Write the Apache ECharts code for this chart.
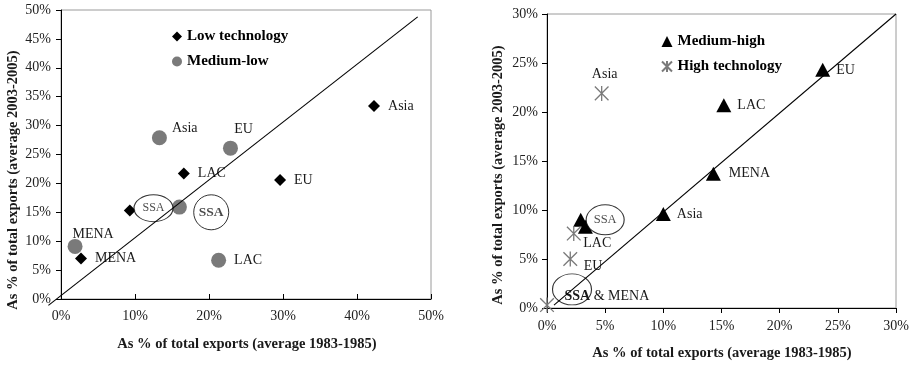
<!DOCTYPE html>
<html>
<head>
<meta charset="utf-8">
<script src="https://cdn.jsdelivr.net/npm/echarts@6/dist/echarts.min.js"></script>
<style>html,body{margin:0;padding:0;background:#fff;}#c{width:915px;height:365px;}</style>
</head>
<body>
<div id="c"></div>
<script>
// ---------- data (percent of total exports) ----------
const xTicksLeft = [0, 10, 20, 30, 40, 50];
const yTicksLeft = [0, 5, 10, 15, 20, 25, 30, 35, 40, 45, 50];
const xTicksRight = [0, 5, 10, 15, 20, 25, 30];
const yTicksRight = [0, 5, 10, 15, 20, 25, 30];

const lowNames = ['Asia', 'LAC', 'EU', 'SSA', 'MENA'];
const lowX = [42.3, 16.6, 29.6, 9.3, 2.7];
const lowY = [33.4, 21.7, 20.6, 15.3, 7.0];

const mlNames = ['Asia', 'EU', 'SSA', 'MENA', 'LAC'];
const mlX = [13.3, 22.9, 16.0, 1.9, 21.3];
const mlY = [27.9, 26.1, 15.9, 9.1, 6.7];

const mhNames = ['EU', 'LAC', 'MENA', 'Asia', 'SSA', 'SSA'];
const mhX = [23.7, 15.2, 14.3, 10.0, 2.9, 3.3];
const mhY = [24.3, 20.7, 13.7, 9.6, 9.0, 8.3];

const htNames = ['Asia', 'LAC', 'EU', 'SSA & MENA'];
const htX = [4.7, 2.3, 2.0, 0.0];
const htY = [21.9, 7.6, 5.0, 0.3];

// 45-degree reference lines (1983-85 share = 2003-05 share)
const diagLeftX = [-1.7, 48.2];
const diagLeftY = [-1.1, 48.8];
const diagRightX = [0.6, 30];
const diagRightY = [0.3, 30];

// SSA highlight ellipses (centre in data units)
const ellLeftX = [12.5, 20.3];
const ellLeftY = [15.7, 15.0];
const ellLeftText = ['SSA', 'SSA'];
const ellRightX = [5.0, 2.15];
const ellRightY = [9.0, 1.9];
const ellRightText = ['SSA', ''];

// ---------- styles ----------
const FONT = '"Liberation Serif", "Times New Roman", serif';
const labelColor = '#1a1a1a';

// label placement per series / name (style only)
const labelPlace = {
  low: {Asia: {position: 'right', distance: 8}, LAC: {position: 'right', distance: 8}, EU: {position: 'right', distance: 8}, MENA: {position: 'right', distance: 8}, SSA: null},
  ml: {Asia: {position: 'right', distance: 5, offset: [0, -9]}, EU: {position: 'top', distance: 4, offset: [13, 0]}, MENA: {position: 'top', distance: 2, offset: [18, 4]}, LAC: {position: 'right', distance: 8}, SSA: null},
  mh: {EU: {position: 'right', distance: 6}, LAC: {position: 'right', distance: 6}, MENA: {position: 'right', distance: 8}, Asia: {position: 'right', distance: 6}, SSA: null},
  ht: {Asia: {position: 'top', distance: 4, offset: [3, 0]}, LAC: {position: 'right', distance: 2, offset: [0, 10]}, EU: {position: 'right', distance: 6, offset: [0, 7]}, 'SSA & MENA': {position: 'right', distance: 10, offset: [0, -9]}}
};

function pts(names, xs, ys, key) {
  return names.map((n, i) => {
    const p = labelPlace[key][n];
    const item = {name: n, value: [xs[i], ys[i]]};
    item.label = p ? Object.assign({show: true}, p) : {show: false};
    return item;
  });
}

const asterisk = 'path://M0,0 L20,20 M0,20 L20,0 M10,-1 L10,21';

const baseLabel = {
  show: true,
  color: labelColor,
  fontFamily: FONT,
  fontSize: 14,
  formatter: function (p) {
    if (p.name === 'SSA & MENA') return '{b|SSA} & MENA';
    return p.name;
  },
  rich: {b: {fontWeight: 'bold', fontFamily: FONT, fontSize: 14, color: labelColor}}
};

function axisCommon(ticks, tickInside, margin) {
  return {
    type: 'value',
    min: ticks[0],
    max: ticks[ticks.length - 1],
    interval: ticks[1] - ticks[0],
    axisLine: {show: true, onZero: false, lineStyle: {color: '#000', width: 1}},
    axisTick: {show: true, inside: tickInside, length: 5, lineStyle: {color: '#000'}},
    axisLabel: {formatter: '{value}%', fontFamily: FONT, fontSize: 14, color: '#222', margin: margin},
    splitLine: {show: false}
  };
}

const chart = echarts.init(document.getElementById('c'), null, {renderer: 'canvas'});

const titleFont = 'bold 14.5px ' + FONT;
const option = {
  backgroundColor: '#fff',
  animation: false,
  grid: [
    {left: 61, top: 10, width: 370, height: 289, show: true, borderColor: '#9a9a9a', borderWidth: 1, backgroundColor: 'transparent'},
    {left: 547, top: 14, width: 349, height: 294, show: true, borderColor: '#9a9a9a', borderWidth: 1, backgroundColor: 'transparent'}
  ],
  xAxis: [
    Object.assign(axisCommon(xTicksLeft, true, 10), {gridIndex: 0}),
    Object.assign(axisCommon(xTicksRight, false, 11), {gridIndex: 1})
  ],
  yAxis: [
    Object.assign(axisCommon(yTicksLeft, false, 10), {gridIndex: 0}),
    Object.assign(axisCommon(yTicksRight, false, 9), {gridIndex: 1})
  ],
  legend: [
    {
      orient: 'vertical', left: 172, top: 29, padding: 0, itemGap: 10, itemWidth: 10, itemHeight: 10,
      data: ['Low technology', 'Medium-low'],
      textStyle: {fontFamily: FONT, fontSize: 15, fontWeight: 'bold', color: '#000'}
    },
    {
      orient: 'vertical', left: 661, top: 34, padding: 0, itemGap: 10, itemWidth: 11, itemHeight: 11,
      data: ['Medium-high', 'High technology'],
      textStyle: {fontFamily: FONT, fontSize: 15, fontWeight: 'bold', color: '#000'}
    }
  ],
  graphic: [
    {type: 'text', x: 247, y: 344, style: {text: 'As % of total exports (average 1983-1985)', font: titleFont, fill: '#1a1a1a', textAlign: 'center', textVerticalAlign: 'middle'}},
    {type: 'text', x: 722, y: 353, style: {text: 'As % of total exports (average 1983-1985)', font: titleFont, fill: '#1a1a1a', textAlign: 'center', textVerticalAlign: 'middle'}},
    {type: 'text', x: 13, y: 180, rotation: Math.PI / 2, style: {text: 'As % of total exports (average 2003-2005)', font: titleFont, fill: '#1a1a1a', textAlign: 'center', textVerticalAlign: 'middle'}},
    {type: 'text', x: 498, y: 175, rotation: Math.PI / 2, style: {text: 'As % of total exports (average 2003-2005)', font: titleFont, fill: '#1a1a1a', textAlign: 'center', textVerticalAlign: 'middle'}}
  ],
  series: [
    {
      name: 'Low technology', type: 'scatter', xAxisIndex: 0, yAxisIndex: 0, z: 2,
      symbol: 'diamond', symbolSize: 12,
      itemStyle: {color: '#000', opacity: 1},
      label: baseLabel,
      data: pts(lowNames, lowX, lowY, 'low')
    },
    {
      name: 'Medium-low', type: 'scatter', xAxisIndex: 0, yAxisIndex: 0, z: 2,
      symbol: 'circle', symbolSize: 15,
      itemStyle: {color: '#7a7a7a', opacity: 1},
      label: baseLabel,
      data: pts(mlNames, mlX, mlY, 'ml')
    },
    {
      name: 'Medium-high', type: 'scatter', xAxisIndex: 1, yAxisIndex: 1, z: 2,
      symbol: 'triangle', symbolSize: [15, 14],
      itemStyle: {color: '#000', opacity: 1},
      label: baseLabel,
      data: pts(mhNames, mhX, mhY, 'mh')
    },
    {
      name: 'High technology', type: 'scatter', xAxisIndex: 1, yAxisIndex: 1, z: 5,
      symbol: asterisk, symbolSize: 15, symbolKeepAspect: true,
      itemStyle: {color: 'rgba(0,0,0,0)', borderColor: '#7a7a7a', borderWidth: 1.3, opacity: 1},
      label: baseLabel,
      data: pts(htNames, htX, htY, 'ht')
    },
    {
      name: 'ellLeft', type: 'scatter', xAxisIndex: 0, yAxisIndex: 0, z: 3, silent: true,
      symbol: 'circle',
      itemStyle: {color: '#fff', borderColor: '#000', borderWidth: 1},
      data: ellLeftX.map((x, i) => ({
        value: [x, ellLeftY[i]],
        symbolSize: i === 0 ? [39, 27] : [35, 35],
        label: {show: true, position: 'inside', formatter: ellLeftText[i], fontFamily: FONT,
                fontSize: i === 0 ? 12 : 13.5, fontWeight: i === 0 ? 'normal' : 'bold', color: labelColor}
      }))
    },
    {
      name: 'ellRight', type: 'scatter', xAxisIndex: 1, yAxisIndex: 1, z: 3, silent: true,
      symbol: 'circle',
      itemStyle: {color: 'rgba(255,255,255,0)', borderColor: '#000', borderWidth: 1},
      data: ellRightX.map((x, i) => ({
        value: [x, ellRightY[i]],
        symbolSize: i === 0 ? [38, 30] : [39, 31],
        itemStyle: i === 0 ? {color: '#fff'} : {color: 'rgba(255,255,255,0)'},
        label: {show: ellRightText[i] !== '', position: 'inside', formatter: ellRightText[i] || ' ', fontFamily: FONT, fontSize: 12.5, color: labelColor}
      }))
    }
  ]
};
chart.setOption(option);

// 45-degree lines: endpoints converted through the chart's own axis scales
function diagLine(gridIndex, xs, ys) {
  const p0 = chart.convertToPixel({gridIndex: gridIndex}, [xs[0], ys[0]]);
  const p1 = chart.convertToPixel({gridIndex: gridIndex}, [xs[1], ys[1]]);
  return {type: 'line', z: 10, silent: true,
          shape: {x1: p0[0], y1: p0[1], x2: p1[0], y2: p1[1]},
          style: {stroke: '#000', lineWidth: 1.1}};
}
chart.setOption({
  graphic: option.graphic.concat([
    diagLine(0, diagLeftX, diagLeftY),
    diagLine(1, diagRightX, diagRightY)
  ])
});
</script>
</body>
</html>
